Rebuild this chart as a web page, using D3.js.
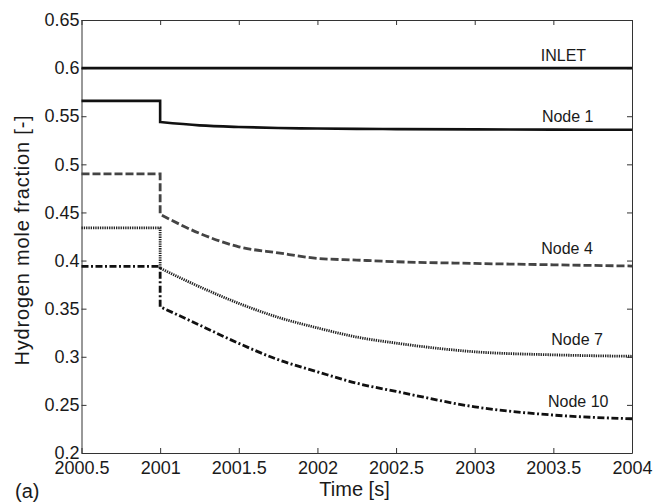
<!DOCTYPE html>
<html>
<head>
<meta charset="utf-8">
<script src="https://cdn.jsdelivr.net/npm/d3@7"></script>
<style>
    body { margin: 0; background: #fff; }
    svg { display: block; font-family: "Liberation Sans", Arial, sans-serif; }
    .axis text { font-size: 18px; fill: #1a1a1a; }
    .axis path, .axis line { stroke: #333; stroke-width: 1; }
</style>
</head>
<body>
<svg></svg>
<script>
// time after the step at 2001 s
const times = [2001, 2001.25, 2001.5, 2001.75, 2002, 2002.25, 2002.5, 2003, 2003.5, 2004]
const names = ["INLET", "Node 1", "Node 4", "Node 7", "Node 10"]
// level held from 2000.5 s until the step
const before = [0.6, 0.566, 0.49, 0.434, 0.394]
const inlet = [0.6, 0.6, 0.6, 0.6, 0.6, 0.6, 0.6, 0.6, 0.6, 0.6]
const node1 = [0.544, 0.5405, 0.5388, 0.5378, 0.5372, 0.5368, 0.5366, 0.5363, 0.5361, 0.5359]
const node4 = [0.448, 0.4283, 0.4143, 0.408, 0.4023, 0.4005, 0.3988, 0.397, 0.3956, 0.3943]
const node7 = [0.392, 0.3728, 0.3555, 0.341, 0.330, 0.3205, 0.3142, 0.3052, 0.302, 0.3005]
const node10 = [0.352, 0.333, 0.3139, 0.297, 0.2844, 0.2725, 0.264, 0.248, 0.2394, 0.2356]

const xTicks = [2000.5, 2001, 2001.5, 2002, 2002.5, 2003, 2003.5, 2004]
const yTicks = [0.2, 0.25, 0.3, 0.35, 0.4, 0.45, 0.5, 0.55, 0.6, 0.65]

// where the curve names sit
const labelTime = [2003.42, 2003.427, 2003.423, 2003.487, 2003.466]
const labelValue = [0.6077, 0.5443, 0.4068, 0.3122, 0.248]

const strokes = ["#111", "#111", "#444", "#222", "#111"]
const widths = [2.6, 2.6, 2.8, 2.8, 2.8]
const dashes = [null, null, "8,3", "1.3,1", "7,2.5,2,2.5"]

const series = [inlet, node1, node4, node7, node10]

const
    margin = { top: 20, right: 21, bottom: 50, left: 81.5 },
    width = 653,
    height = 503

const x = d3.scaleLinear()
    .domain([2000.5, 2004])
    .range([margin.left, width - margin.right])

const y = d3.scaleLinear()
    .domain([0.2, 0.65])
    .range([height - margin.bottom, margin.top])

const svg = d3.select("svg")
    .attr("width", width)
    .attr("height", height)

const xAxis = g => g
    .attr("transform", `translate(0,${height - margin.bottom})`)
    .call(d3.axisBottom(x).tickValues(xTicks).tickFormat(d => String(d))
        .tickSizeInner(-5).tickSizeOuter(0).tickPadding(8))

const yAxis = g => g
    .attr("transform", `translate(${margin.left},0)`)
    .call(d3.axisLeft(y).tickValues(yTicks).tickFormat(d => String(d))
        .tickSizeInner(-5).tickSizeOuter(0).tickPadding(2))

const topAxis = g => g
    .attr("transform", `translate(0,${margin.top})`)
    .call(d3.axisTop(x).tickValues(xTicks).tickFormat("")
        .tickSizeInner(-5).tickSizeOuter(0))

const rightAxis = g => g
    .attr("transform", `translate(${width - margin.right},0)`)
    .call(d3.axisRight(y).tickValues(yTicks).tickFormat("")
        .tickSizeInner(-5).tickSizeOuter(0))

svg.append("g").attr("class", "axis").call(xAxis)
svg.append("g").attr("class", "axis").call(yAxis)
svg.append("g").attr("class", "axis").call(topAxis)
svg.append("g").attr("class", "axis").call(rightAxis)

const flat = d3.line()
    .x(d => x(d[0]))
    .y(d => y(d[1]))

const decay = d3.line()
    .x(d => x(d[0]))
    .y(d => y(d[1]))
    .curve(d3.curveMonotoneX)

series.forEach((values, i) => {
    const pre = [[x.domain()[0], before[i]], [times[0], before[i]]]
    const post = times.map((t, j) => [t, values[j]])
    svg.append("path")
        .attr("d", flat(pre) + decay(post).replace(/^M/, "L"))
        .attr("fill", "none")
        .attr("stroke", strokes[i])
        .attr("stroke-width", widths[i])
        .attr("stroke-dasharray", dashes[i])
})

svg.append("g")
    .selectAll("text")
    .data(names)
    .enter().append("text")
    .attr("x", (d, i) => x(labelTime[i]))
    .attr("y", (d, i) => y(labelValue[i]))
    .attr("font-size", 16)
    .attr("fill", "#1a1a1a")
    .text(d => d)

// axis titles
svg.append("text")
    .attr("x", 354.5)
    .attr("y", 496)
    .attr("text-anchor", "middle")
    .attr("font-size", 20)
    .attr("fill", "#1a1a1a")
    .text("Time [s]")

svg.append("text")
    .attr("transform", "translate(29,240) rotate(-90)")
    .attr("text-anchor", "middle")
    .attr("font-size", 20)
    .attr("letter-spacing", 0.8)
    .attr("fill", "#1a1a1a")
    .text("Hydrogen mole fraction [-]")

svg.append("text")
    .attr("x", 15)
    .attr("y", 498)
    .attr("font-size", 20)
    .attr("fill", "#1a1a1a")
    .text("(a)")
</script>
</body>
</html>
